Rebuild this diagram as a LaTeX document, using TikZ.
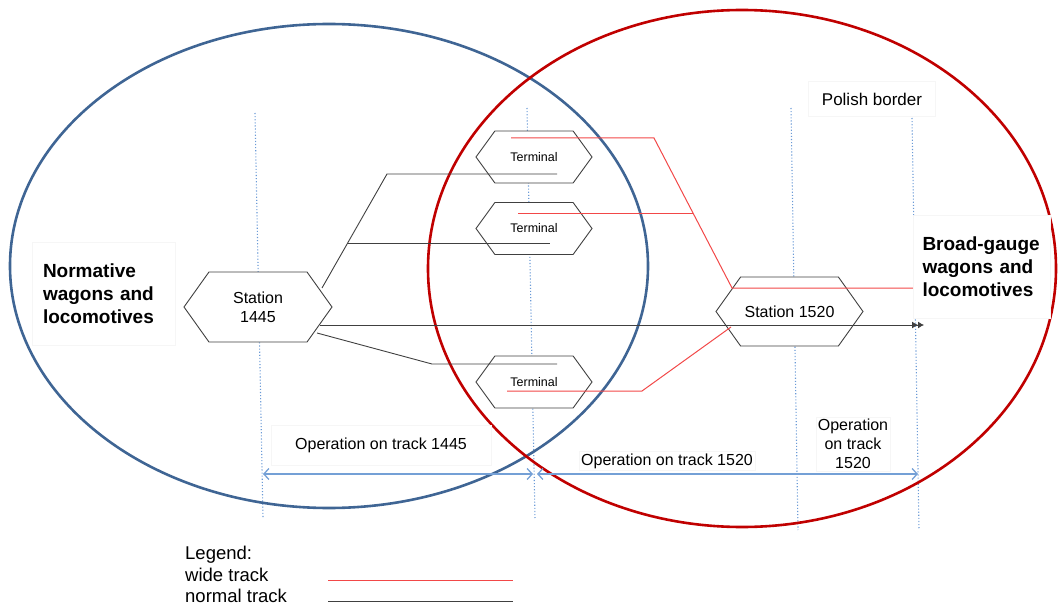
\documentclass[tikz,border=0pt]{standalone}
\usepackage{fontspec}
\setmainfont{Liberation Sans}
\usetikzlibrary{shapes.symbols,arrows.meta}
\definecolor{setblue}{HTML}{3F6594}
\definecolor{setred}{HTML}{C00000}
\definecolor{gridblue}{HTML}{6A9AD6}
\definecolor{spanblue}{HTML}{74A0D6}
\definecolor{widered}{HTML}{F24848}
\definecolor{normalgray}{HTML}{404040}
\definecolor{boxedge}{HTML}{F6F6F6}
\tikzset{
  hexa/.style={shape=signal, signal to=east and west, draw=normalgray,
    fill=white, line width=0.9pt, inner sep=0pt, align=center},
  bigstation/.style={hexa, signal pointer angle=109, minimum height=70,
    minimum width=148, font=\fontsize{16}{19}\selectfont},
  terminalbox/.style={hexa, signal pointer angle=108, minimum height=52,
    minimum width=116, font=\fontsize{12.5}{14}\selectfont},
  gridline/.style={gridblue, dotted, line width=1.1pt},
  setline/.style={line width=2.6pt},
  normaltrack/.style={normalgray, line width=0.9pt},
  widetrack/.style={widered, line width=1pt},
  span/.style={spanblue, line width=1.3pt,
    {Straight Barb[length=5pt,width=11pt]}-{Straight Barb[length=5pt,width=11pt]}},
  labelbox/.style={fill=white, draw=boxedge, line width=0.6pt, align=center},
  grouplabel/.style={labelbox, align=left, font=\fontsize{19}{23}\bfseries\selectfont},
  spanlabel/.style={labelbox, font=\fontsize{16}{19}\selectfont}
}
\begin{document}
\begin{tikzpicture}[x=1pt,y=-1pt]
\useasboundingbox (0,0) rectangle (1058,607);

% dotted reference verticals
\coordinate (g1t) at (255,113); \coordinate (g1b) at (263,518);
\coordinate (g2t) at (527,108); \coordinate (g2b) at (535,518);
\coordinate (g3t) at (791,108); \coordinate (g3b) at (798,530);
\coordinate (g4t) at (912,118); \coordinate (g4b) at (919,530);
\draw[gridline] (g1t) -- (g1b);
\draw[gridline] (g2t) -- (g2b);
\draw[gridline] (g3t) -- (g3b);
\draw[gridline] (g4t) -- (g4b);

% stations and terminals
\node[bigstation] (s1445) at (258,307) {Station\\1445};
\node[bigstation, minimum height=69, minimum width=147] (s1520) at (789.5,311.5) {Station 1520};
\node[terminalbox] (t1) at (534,157) {Terminal};
\node[terminalbox] (t2) at (534,228.5) {Terminal};
\node[terminalbox] (t3) at (534,382) {Terminal};

% the two rolling-stock sets
\draw[setblue, setline] (329,266) ellipse [x radius=319, y radius=242];
\draw[setred, setline] (742,268.5) ellipse [x radius=314, y radius=258.5];

% normal (1445 mm) track
\coordinate (n1a) at (322,288); \coordinate (n1b) at (387,174); \coordinate (n1c) at (557,174);
\coordinate (n2a) at (348,243); \coordinate (n2b) at (550,243);
\coordinate (n3a) at (320,325); \coordinate (n3b) at (924,325);
\coordinate (n4a) at (317,333); \coordinate (n4b) at (432,364); \coordinate (n4c) at (557,364);
\draw[normaltrack] (n1a) -- (n1b) -- (n1c);
\draw[normaltrack] (n2a) -- (n2b);
\draw[normaltrack, -{Latex[length=6pt,width=7pt]Latex[length=6pt,width=7pt]}] (n3a) -- (n3b);
\draw[normaltrack] (n4a) -- (n4b) -- (n4c);

% wide (1520 mm) track
\coordinate (w1a) at (511,138); \coordinate (w1b) at (654,138);
\coordinate (w1c) at (732,288); \coordinate (w1d) at (913,288);
\coordinate (w2a) at (518,213); \coordinate (w2b) at (693,213);
\coordinate (w3a) at (507,391); \coordinate (w3b) at (642,391); \coordinate (w3c) at (731,327);
\draw[widetrack] (w1a) -- (w1b) -- (w1c) -- (w1d);
\draw[widetrack] (w2a) -- (w2b);
\draw[widetrack] (w3a) -- (w3b) -- (w3c);

% group labels
\node[grouplabel, text width=121, inner xsep=11, minimum height=103] (normlbl) at (103.5,293.5)
  {Normative\\wagons and\\locomotives};
\node[grouplabel, minimum width=137, minimum height=103, text width=118] (broadlbl) at (981.5,266.5)
  {Broad-gauge\\wagons and\\locomotives};
\node[spanlabel, font=\fontsize{17}{20}\selectfont, minimum width=127, minimum height=35] (border) at (872,99)
  {Polish border};

% operation spans
\coordinate (a1l) at (263,474); \coordinate (a1r) at (533,474);
\coordinate (a2l) at (537,474); \coordinate (a2r) at (918,474);
\draw[span] (a1l) -- (a1r);
\draw[span] (a2l) -- (a2r);
\node[spanlabel, minimum width=220, minimum height=40] (op1) at (381,445) {Operation on track 1445};
\node[spanlabel, inner sep=2pt] (op2) at (667,461) {Operation on track 1520};
\node[spanlabel, inner sep=2pt] (op3) at (853,444) {Operation\\on track\\1520};

% legend
\node[anchor=north west, align=left, inner sep=0pt, font=\fontsize{18.5}{21.5}\selectfont] (legend) at (185,546)
  {Legend:\\wide track\\normal track};
\coordinate (lw1) at (328,580); \coordinate (lw2) at (513,580);
\coordinate (ln1) at (328,601); \coordinate (ln2) at (513,601);
\draw[widetrack] (lw1) -- (lw2);
\draw[normaltrack] (ln1) -- (ln2);
\end{tikzpicture}
\end{document}
